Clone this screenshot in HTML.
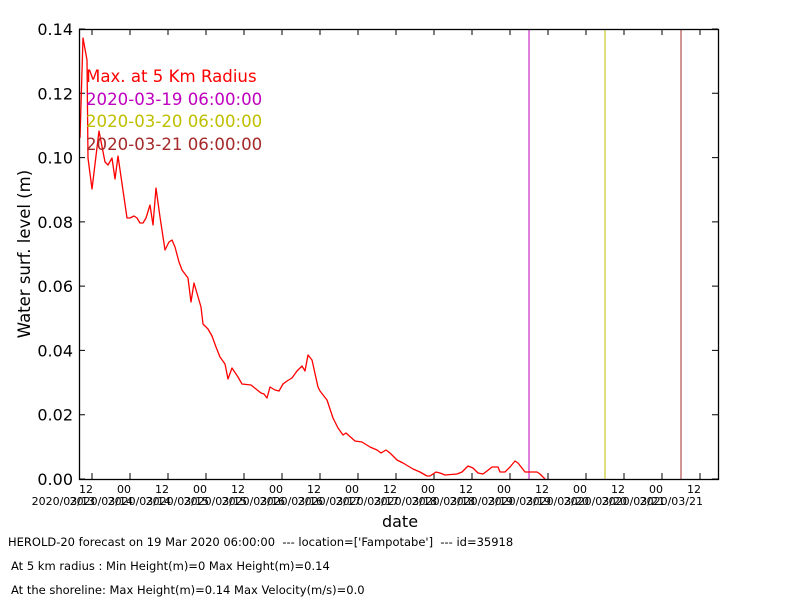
<!DOCTYPE html>
<html><head><meta charset="utf-8"><style>
body{margin:0;background:#fff;width:800px;height:600px;overflow:hidden}
svg{display:block;font-family:"DejaVu Sans","Liberation Sans",sans-serif}
</style></head><body>
<svg width="800" height="600" xmlns="http://www.w3.org/2000/svg">
<rect width="800" height="600" fill="#fff"/>
<g stroke="#000" stroke-width="1">
<path d="M79,479h6M79,414.7h6M79,350.4h6M79,286.1h6M79,221.9h6M79,157.6h6M79,93.3h6M79,29h6"/>
<path d="M718,479h-6M718,414.7h-6M718,350.4h-6M718,286.1h-6M718,221.9h-6M718,157.6h-6M718,93.3h-6M718,29h-6"/>
<path d="M92,479v-6M130,479v-6M168,479v-6M206,479v-6M244,479v-6M282,479v-6M320,479v-6M358,479v-6M396,479v-6M434,479v-6M472,479v-6M510,479v-6M548,479v-6M586,479v-6M624,479v-6M662,479v-6M700,479v-6"/>
<path d="M92,29v6M130,29v6M168,29v6M206,29v6M244,29v6M282,29v6M320,29v6M358,29v6M396,29v6M434,29v6M472,29v6M510,29v6M548,29v6M586,29v6M624,29v6M662,29v6M700,29v6"/>
</g>
<line x1="529" y1="29" x2="529" y2="479" stroke="#bf00bf" stroke-width="1"/>
<line x1="605" y1="29" x2="605" y2="479" stroke="#bfbf00" stroke-width="1"/>
<line x1="681" y1="29" x2="681" y2="479" stroke="#a52a2a" stroke-width="1"/>
<polyline fill="none" stroke="#f00" stroke-width="1.3" stroke-linejoin="round" points="80,138 83,38 87,60 88,158 92,189 99,131 105,162 108,165 112,158 115,179 118,156 127,218 130,218 134,216 137,218 140,223 143,223 146,218 150,205 153,225 156,188 160,217 165,250 169,242 172,240 175,247 179,262 182,270 188,278 191,302 194,283 201,307 203,324 208,329 212,336 216,347 220,357 225,364 228,379 232,368 238,377 242,384 251,385 261,393 264,394 267,398 270,387 275,390 279,391 283,384 287,381 292,378 297,371 302,366 305,371 308,355 312,360 318,387 320,391 327,400 333,418 338,428 343,435 346,433 355,441 362,442 370,447 377,450 381,453 386,450 390,453 397,460 403,463 413,469 420,472 427,476 430,476 436,472 440,473 445,475 457,474 462,472 468,466 473,468 478,473 483,474 487,471 492,467 495,467 498,467 500,472 505,472 510,467 515,461 518,463 525,472 530,472 537,472 540,474 545,479"/>
<rect x="79.5" y="29.5" width="639" height="450" fill="none" stroke="#000" stroke-width="1.3"/>
<g font-size="16" text-anchor="end" fill="#000">
<text x="73" y="485">0.00</text><text x="73" y="420.7">0.02</text><text x="73" y="356.4">0.04</text><text x="73" y="292.1">0.06</text><text x="73" y="227.9">0.08</text><text x="73" y="163.6">0.10</text><text x="73" y="99.3">0.12</text><text x="73" y="35">0.14</text>
</g>
<g font-size="11" text-anchor="middle" fill="#000">
<text x="86" y="493">12</text><text x="124" y="493">00</text><text x="162" y="493">12</text><text x="200" y="493">00</text><text x="238" y="493">12</text><text x="276" y="493">00</text><text x="314" y="493">12</text><text x="352" y="493">00</text><text x="390" y="493">12</text><text x="428" y="493">00</text><text x="466" y="493">12</text><text x="504" y="493">00</text><text x="542" y="493">12</text><text x="580" y="493">00</text><text x="618" y="493">12</text><text x="656" y="493">00</text><text x="694" y="493">12</text>
</g>
<g font-size="11" text-anchor="end" fill="#000">
<text x="95" y="505">2020/03/13</text><text x="133" y="505">2020/03/14</text><text x="171" y="505">2020/03/14</text><text x="209" y="505">2020/03/15</text><text x="247" y="505">2020/03/15</text><text x="285" y="505">2020/03/16</text><text x="323" y="505">2020/03/16</text><text x="361" y="505">2020/03/17</text><text x="399" y="505">2020/03/17</text><text x="437" y="505">2020/03/18</text><text x="475" y="505">2020/03/18</text><text x="513" y="505">2020/03/19</text><text x="551" y="505">2020/03/19</text><text x="589" y="505">2020/03/20</text><text x="627" y="505">2020/03/20</text><text x="665" y="505">2020/03/21</text><text x="703" y="505">2020/03/21</text>
</g>
<text x="400" y="527" font-size="16" text-anchor="middle">date</text>
<text transform="translate(30,254) rotate(-90)" font-size="16.5" text-anchor="middle">Water surf. level (m)</text>
<g font-size="16.6">
<text x="86" y="82" fill="#f00">Max. at 5 Km Radius</text>
<text x="86" y="105" fill="#bf00bf">2020-03-19 06:00:00</text>
<text x="86" y="127" fill="#bfbf00">2020-03-20 06:00:00</text>
<text x="86" y="150" fill="#a52a2a">2020-03-21 06:00:00</text>
</g>
<g font-size="11.5" fill="#000" style="white-space:pre">
<text x="8" y="546" xml:space="preserve">HEROLD-20 forecast on 19 Mar 2020 06:00:00  --- location=['Fampotabe']  --- id=35918</text>
<text x="11" y="570">At 5 km radius : Min Height(m)=0 Max Height(m)=0.14</text>
<text x="11" y="594">At the shoreline: Max Height(m)=0.14 Max Velocity(m/s)=0.0</text>
</g>
</svg>
</body></html>
